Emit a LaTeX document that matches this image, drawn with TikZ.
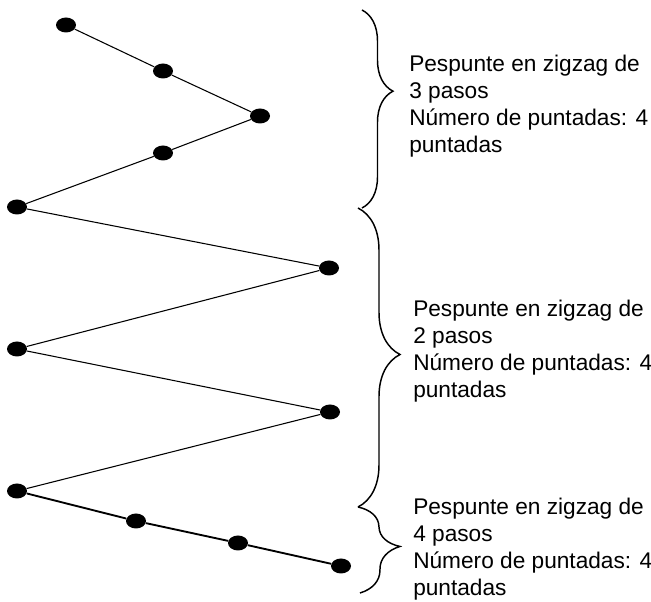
\documentclass[tikz,border=0pt]{standalone}
\usepackage{fontspec}
\setmainfont{Liberation Sans}
\usetikzlibrary{shapes.geometric, decorations.pathreplacing}
\tikzset{
  stitch/.style={ellipse, fill=black, draw=none, inner sep=0pt, minimum width=15pt, minimum height=11.25pt},
  thread/.style={line width=0.8pt, black},
  bracket/.style={decorate, line width=1.1pt, black},
  steptext/.style={font=\fontsize{17}{20.25}\selectfont, align=left, inner sep=0pt, anchor=base west}
}

\begin{document}
\begin{tikzpicture}[x=0.75pt, y=-0.75pt]
      \useasboundingbox (0,0) rectangle (651,602);
      % 3-step zigzag
      \node[stitch] (d1) at (66,25) {};
      \node[stitch] (d2) at (163,71) {};
      \node[stitch] (d3) at (260,116) {};
      \node[stitch] (d4) at (163,153) {};
      \node[stitch] (d5) at (17,207) {};
      \draw[thread] (d1) -- (d2) -- (d3) -- (d4) -- (d5);
      % 2-step zigzag
      \node[stitch] (d6) at (329,268) {};
      \node[stitch] (d7) at (17,349) {};
      \node[stitch] (d8) at (330,412) {};
      \node[stitch] (d9) at (17,491) {};
      \draw[thread] (d5) -- (d6) -- (d7) -- (d8) -- (d9);
      % 4-step straight run
      \node[stitch] (d10) at (136,521) {};
      \node[stitch] (d11) at (238,543) {};
      \node[stitch] (d12) at (341,566) {};
      \draw[thread, line width=1.4pt] (d9) -- (d10) -- (d11) -- (d12);
      % Braces
      \coordinate (b1top) at (362,10);
      \coordinate (b1bot) at (362,208);
      \coordinate (b2top) at (358,208);
      \coordinate (b2bot) at (358,507);
      \coordinate (b3top) at (358,507);
      \coordinate (b3bot) at (360,593);
      \draw[bracket, decoration={brace, amplitude=23.25pt, aspect=0.41}] (b1top) -- (b1bot);
      \draw[bracket, decoration={brace, amplitude=31.5pt, aspect=0.49}] (b2top) -- (b2bot);
      \draw[bracket, decoration={brace, amplitude=30.75pt, aspect=0.47}] (b3top) -- (b3bot);
      % Labels (anchored at the last line)
      \node[steptext] (t1) at (409,153) {Pespunte en zigzag de\\3 pasos\\Número de puntadas: 4\\puntadas};
      \node[steptext] (t2) at (413,398) {Pespunte en zigzag de\\2 pasos\\Número de puntadas: 4\\puntadas};
      \node[steptext] (t3) at (413,596) {Pespunte en zigzag de\\4 pasos\\Número de puntadas: 4\\puntadas};
    \end{tikzpicture}
\end{document}
